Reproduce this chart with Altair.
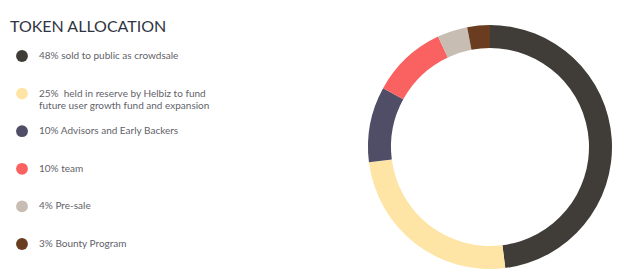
import altair as alt
import pandas as pd

title_text = "TOKEN ALLOCATION"
labels = [
    "48% sold to public as crowdsale",
    "25%\u00a0 held in reserve by Helbiz to fund\nfuture user growth fund and expansion",
    "10% Advisors and Early Backers",
    "10% team",
    "4% Pre-sale",
    "3% Bounty Program",
]
shares = [48, 25, 10, 10, 4, 3]
colors = ["#403c37", "#fee5a6", "#4f4e66", "#f96261", "#c8bdb3", "#6b3d20"]

df = pd.DataFrame({"label": labels, "share": shares, "idx": list(range(len(labels)))})

color_scale = alt.Scale(domain=labels, range=colors)
y_scale = alt.Scale(type="point", domain=labels, range=[56, 244], padding=0)

base = alt.Chart(df)

dots = base.mark_circle(size=140, opacity=1).encode(
    x=alt.value(22),
    y=alt.Y("label:N", scale=y_scale, axis=None),
    color=alt.Color("label:N", scale=color_scale, legend=None),
)

texts = base.mark_text(
    align="left", baseline="middle", font="Lato", fontSize=10, color="#5f5f6a",
    lineBreak="\n", lineHeight=12,
).encode(
    x=alt.value(39),
    y=alt.Y("label:N", scale=y_scale, axis=None),
    text="label:N",
)

donut = base.mark_arc(radius=122, radius2=99).encode(
    theta=alt.Theta("share:Q", stack=True),
    order=alt.Order("idx:Q"),
    color=alt.Color("label:N", scale=color_scale, legend=None),
    x=alt.value(490),
    y=alt.value(147),
)

title = alt.Chart(pd.DataFrame({"t": [title_text]})).mark_text(
    align="left", baseline="alphabetic", font="Lato", fontSize=16, color="#2f3442",
    fontWeight="normal",
).encode(x=alt.value(10), y=alt.value(32), text="t:N")

chart = alt.layer(donut, dots, texts, title).properties(
    width=640, height=280, padding=0, autosize=alt.AutoSizeParams(type="none"),
).configure_view(stroke=None).resolve_scale(theta="independent")

chart.save("out.html", embed_options={"renderer": "svg", "actions": False})
